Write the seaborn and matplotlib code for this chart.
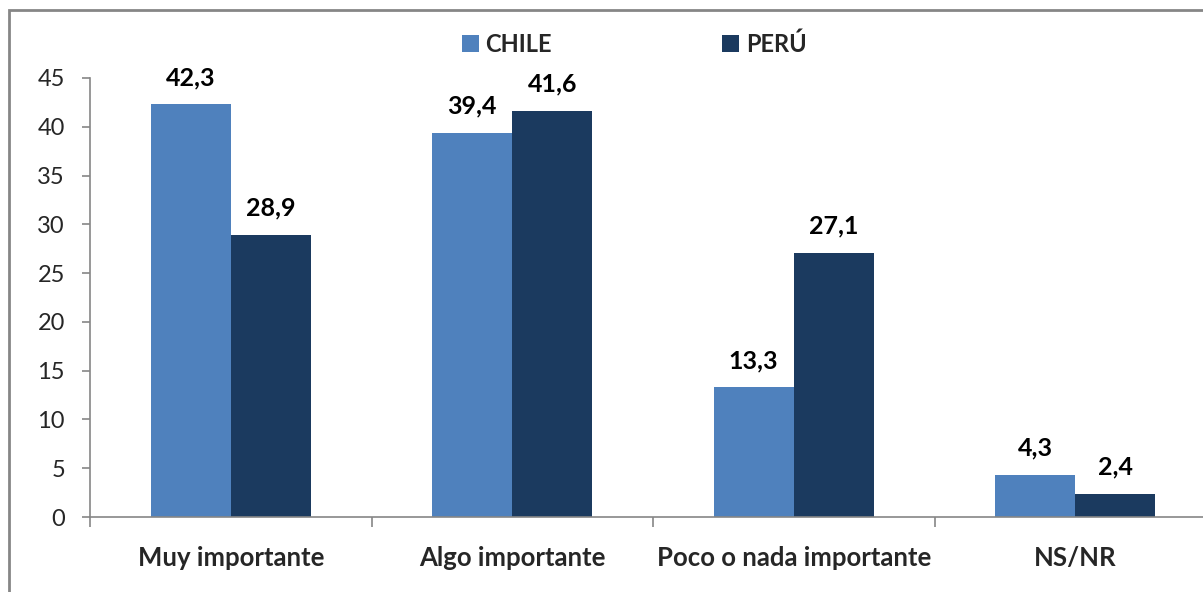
import pandas as pd
import matplotlib.pyplot as plt
import seaborn as sns
from matplotlib.patches import Rectangle, Patch

# Data
categories = ["Muy importante", "Algo importante", "Poco o nada importante", "NS/NR"]
chile = [42.3, 39.4, 13.3, 4.3]
peru = [28.9, 41.6, 27.1, 2.4]
series = ["CHILE", "PERÚ"]
colors = ["#4F81BD", "#1B3A5F"]
yticks = [0, 5, 10, 15, 20, 25, 30, 35, 40, 45]

df = pd.DataFrame({
    "categoria": categories * 2,
    "pais": [series[0]] * len(categories) + [series[1]] * len(categories),
    "valor": chile + peru,
})

sns.set_style("white")
plt.rcParams['font.family'] = ['Lato', 'DejaVu Sans']

fig = plt.figure(figsize=(12.03, 5.92), dpi=100)
ax = fig.add_axes([90 / 1203, 75 / 592, 1126 / 1203, 439 / 592])

sns.barplot(data=df, x="categoria", y="valor", hue="pais", palette=colors,
            width=0.57, dodge=True, ax=ax, legend=False, saturation=1,
            edgecolor="none")

# value labels with decimal comma
for cont in ax.containers:
    ax.bar_label(cont, labels=[f"{v:.1f}".replace(".", ",") for v in cont.datavalues],
                 padding=11, fontsize=18, fontweight="bold", color="black")

ax.set_ylim(0, 45)
ax.set_xlim(-0.5, 3.5)
ax.set_yticks(yticks)
ax.set_yticklabels([str(t) for t in yticks], fontsize=17)
ax.set_xlabel("")
ax.set_ylabel("")

grey = "#868686"
for s in ["top", "right"]:
    ax.spines[s].set_visible(False)
for s in ["left", "bottom"]:
    ax.spines[s].set_color(grey)
    ax.spines[s].set_linewidth(1.2)

ax.tick_params(axis="y", left=True, length=6, color=grey, width=1.2, pad=12)
ax.tick_params(axis="x", which="major", length=0, pad=21, labelsize=18.5)
for lbl in ax.get_xticklabels():
    lbl.set_fontweight("bold")
ax.set_xticks([-0.5, 0.5, 1.5, 2.5, 3.5], minor=True)
ax.tick_params(axis="x", which="minor", bottom=True, length=7, color=grey, width=1.2)

# legend
handles = [Patch(facecolor=c, edgecolor="none") for c in colors]
fig.legend(handles, series, loc="center left", bbox_to_anchor=(462 / 1203, 1 - 44 / 592),
           ncol=2, frameon=False, borderpad=0, borderaxespad=0,
           handlelength=0.7, handleheight=0.7, handletextpad=0.3, columnspacing=7.2,
           prop={"size": 17, "weight": "bold"})

# outer chart border
fig.patches.append(Rectangle((9 / 1203, -0.1), 1.2, 1 - 10 / 592 + 0.1,
                             transform=fig.transFigure, fill=False,
                             edgecolor=grey, linewidth=2))

plt.savefig("out.png", dpi=100)
